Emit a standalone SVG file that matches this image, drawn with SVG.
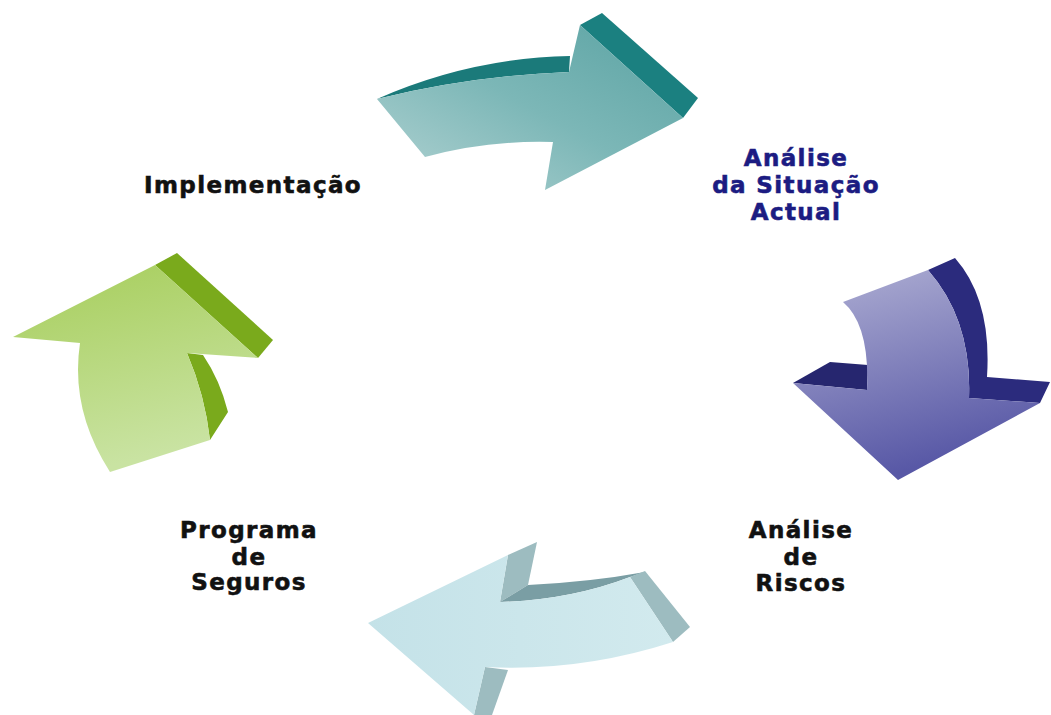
<svg xmlns="http://www.w3.org/2000/svg" width="1051" height="715" viewBox="0 0 1051 715">
<defs>
<linearGradient id="gTeal" x1="0" y1="1" x2="1" y2="0">
<stop offset="0" stop-color="#b3d3d3"/>
<stop offset="0.5" stop-color="#7cb7b7"/>
<stop offset="1" stop-color="#5ba3a3"/>
</linearGradient>
<linearGradient id="gBlue" x1="0" y1="0" x2="0.3" y2="1">
<stop offset="0" stop-color="#b0b0d4"/>
<stop offset="1" stop-color="#5858a6"/>
</linearGradient>
<linearGradient id="gCyan" x1="0" y1="0" x2="1" y2="0">
<stop offset="0" stop-color="#c4e2e8"/>
<stop offset="1" stop-color="#d2eaee"/>
</linearGradient>
<linearGradient id="gGreen" x1="0" y1="0" x2="0.3" y2="1">
<stop offset="0" stop-color="#a6cd5a"/>
<stop offset="1" stop-color="#c9e3a2"/>
</linearGradient>
</defs>
<style>
.lbl{font-family:"DejaVu Sans",Verdana,sans-serif;font-weight:bold;font-size:23px;letter-spacing:1.4px;text-anchor:middle;fill:#111;stroke:#111;stroke-width:0.6px}
.blue{fill:#1c1c82;stroke:#1c1c82}
</style>
<rect width="1051" height="715" fill="#ffffff"/>
<g id="connectors">
<g id="arrow-top">
<path d="M377,99 Q470,58 570,56 L569,72 Q470,76 377,99 Z" fill="#1b7a7a"/>
<path d="M580,25 L602,13 L698,98 L683,118 Z" fill="#1b8080"/>
<path d="M377,99 Q470,76 569,72 L580,25 L683,118 L545,190 L553,142 Q487,140 425,157 Z" fill="url(#gTeal)"/>
</g>
<g id="arrow-right">
<path d="M928,270 L955,258 Q992,300 987,377 L1050,382 L1040,403 L969,398 Q972,320 928,270 Z" fill="#2b2b7d"/>
<path d="M793,383 L830,362 L868,365 L867,390 Z" fill="#26266f"/>
<path d="M843,302 L928,270 Q972,320 969,398 L1040,403 L898,480 L793,383 L867,390 Q870,325 843,302 Z" fill="url(#gBlue)"/>
</g>
<g id="arrow-bottom">
<path d="M508,555 L537,542 L528,585 L500,602 Z" fill="#9dbcc0"/>
<path d="M500,602 L528,585 Q590,582 645,572 L630,577 Q570,600 500,602 Z" fill="#7a9ea4"/>
<path d="M630,577 L645,571 L690,627 L673,642 Z" fill="#9dbcc0"/>
<path d="M485,667 L508,670 L492,715 L474,715 Z" fill="#9dbcc0"/>
<path d="M368,623 L508,555 L500,602 Q570,600 630,577 L673,642 Q580,672 485,667 L474,715 Z" fill="url(#gCyan)"/>
</g>
<g id="arrow-left">
<path d="M155,265 L177,253 L273,340 L258,358 Z" fill="#7aaa1c"/>
<path d="M187,353 L203,355 Q220,380 228,412 L210,440 Q205,395 187,353 Z" fill="#7aaa1c"/>
<path d="M13,337 L155,265 L258,358 L187,353 Q205,395 210,440 L110,472 Q70,410 80,343 Z" fill="url(#gGreen)"/>
</g>
</g>
<g id="node-implementacao">
<text class="lbl" x="253" y="193">Implementação</text>
</g>
<g id="node-analise-situacao">
<text class="lbl blue" x="796" y="166">Análise</text>
<text class="lbl blue" x="796" y="193">da Situação</text>
<text class="lbl blue" x="796" y="220">Actual</text>
</g>
<g id="node-analise-riscos">
<text class="lbl" x="801" y="538">Análise</text>
<text class="lbl" x="801" y="565">de</text>
<text class="lbl" x="801" y="591">Riscos</text>
</g>
<g id="node-programa-seguros">
<text class="lbl" x="249" y="538">Programa</text>
<text class="lbl" x="249" y="565">de</text>
<text class="lbl" x="249" y="590">Seguros</text>
</g>
</svg>
